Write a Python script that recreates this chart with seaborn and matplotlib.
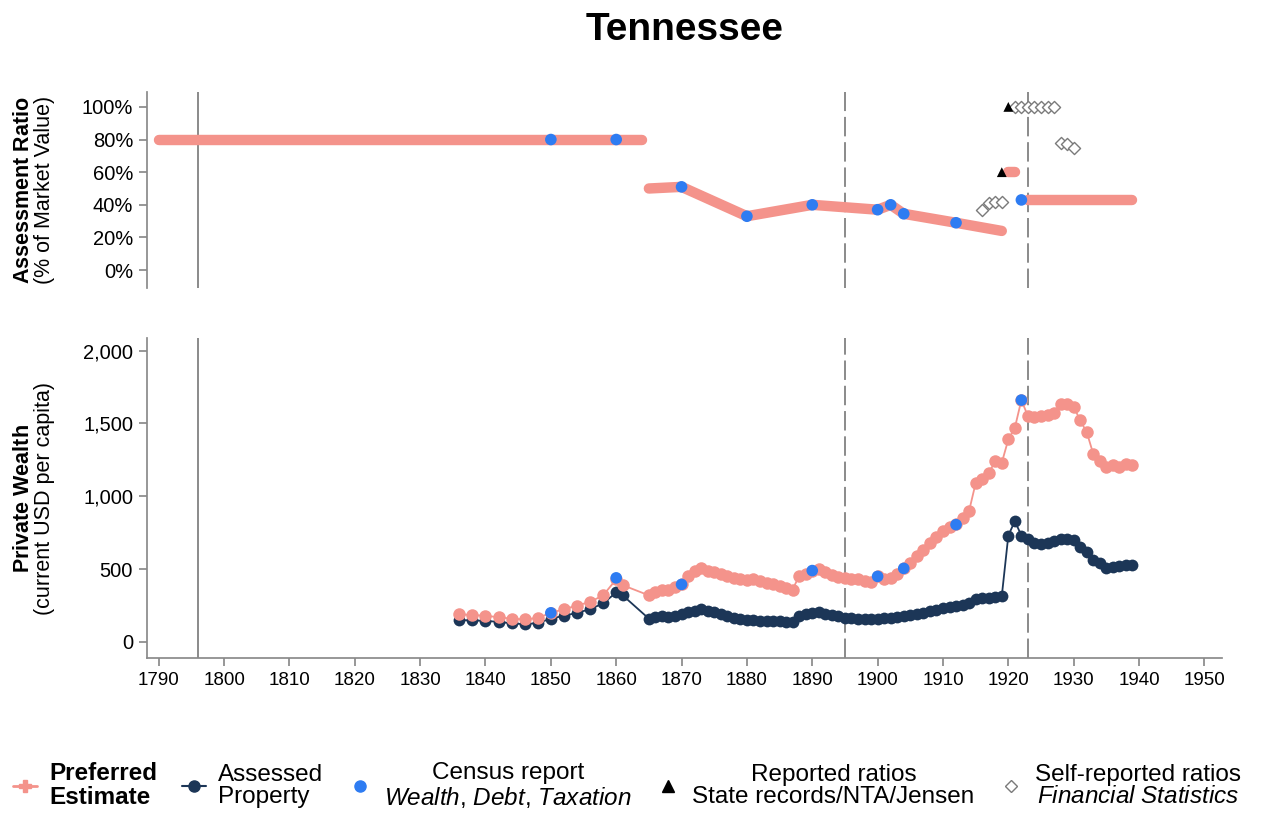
import numpy as np
import pandas as pd
import matplotlib
matplotlib.use("Agg")
import matplotlib.pyplot as plt
import seaborn as sns
from matplotlib.lines import Line2D

# ---------------- data ----------------
# Private wealth (current USD per capita)
wealth_years = [1836, 1838, 1840, 1842, 1844, 1846, 1848, 1850, 1852, 1854, 1856, 1858, 1860, 1861] + list(range(1865, 1940))
preferred_wealth = [190, 185, 180, 170, 160, 155, 165, 200, 225, 250, 275, 320, 430, 390,
                    320, 340, 355, 360, 375, 395, 450, 490, 505, 490,
                    480, 470, 455, 440, 430, 425, 435, 420, 405, 395,
                    385, 370, 360, 455, 470, 490, 500, 480, 460, 445,
                    440, 435, 430, 420, 415, 450, 430, 440, 470, 505,
                    545, 590, 630, 680, 720, 760, 790, 810, 850, 900,
                    1090, 1120, 1160, 1240, 1230, 1390, 1470, 1660, 1550, 1545,
                    1550, 1555, 1570, 1630, 1630, 1615, 1520, 1440, 1290, 1240,
                    1200, 1215, 1200, 1220, 1215]
assessed_wealth = [150, 148, 145, 138, 128, 122, 130, 160, 180, 200, 225, 265, 340, 320,
                   160, 170, 175, 170, 180, 190, 205, 215, 225, 215,
                   205, 190, 175, 165, 155, 150, 148, 145, 145, 143,
                   142, 140, 140, 175, 190, 200, 205, 195, 185, 175,
                   168, 163, 158, 155, 155, 160, 165, 168, 172, 178,
                   185, 192, 200, 210, 220, 230, 238, 245, 255, 270,
                   295, 300, 305, 308, 315, 730, 830, 730, 710, 680,
                   675, 680, 690, 705, 710, 700, 650, 620, 565, 540,
                   510, 515, 520, 530, 525]
census_wealth_years = [1850, 1860, 1870, 1890, 1900, 1904, 1912, 1922]
census_wealth = [200, 440, 395, 490, 450, 505, 805, 1660]

# Assessment ratio (% of market value), preferred estimate in segments
ratio_seg = [1, 1, 2, 2, 2, 2, 2, 2, 2, 2, 2, 2, 3, 3, 4, 4]
ratio_years = [1790, 1864, 1865, 1870, 1880, 1890, 1895, 1900, 1902, 1904, 1912, 1919, 1920, 1921, 1923, 1939]
ratio_pref = [80, 80, 50, 51, 33, 40, 38.5, 37, 40, 34.5, 29, 24, 60, 60, 43, 43]
census_ratio_years = [1850, 1860, 1870, 1880, 1890, 1900, 1902, 1904, 1912, 1922]
census_ratio = [80, 80, 51, 33, 40, 37, 40, 34.5, 29, 43]
reported_years = [1919, 1920]
reported_ratio = [60, 100]
self_years = [1916, 1917, 1918, 1919, 1921, 1922, 1923, 1924, 1925, 1926, 1927, 1928, 1929, 1930]
self_ratio = [37, 41, 42, 42, 100, 100, 100, 100, 100, 100, 100, 78, 77, 75]

event_solid = [1796]
event_dashed = [1895, 1923]

# ---------------- style ----------------
PINK = "#f4938b"
NAVY = "#1c3657"
BLUE = "#2e7cf2"
GRAY = "#8a8a8a"

sns.set_theme(style="white")
plt.rcParams["font.family"] = ["Liberation Sans", "DejaVu Sans"]
plt.rcParams["mathtext.fontset"] = "custom"
plt.rcParams["mathtext.rm"] = "Liberation Sans"
plt.rcParams["mathtext.it"] = "Liberation Sans:italic"
plt.rcParams["mathtext.bf"] = "Liberation Sans:bold"
for k in ["text.color", "axes.labelcolor", "xtick.labelcolor", "ytick.labelcolor"]:
    plt.rcParams[k] = "black"

fig = plt.figure(figsize=(12.67, 8.16), dpi=100)
ax1 = fig.add_axes([0.116, 0.647, 0.8485, 0.240])
ax2 = fig.add_axes([0.116, 0.1936, 0.8485, 0.392], sharex=ax1)

for ax in (ax1, ax2):
    for x in event_solid:
        ax.axvline(x, color=GRAY, lw=1.4, zorder=1)
    for x in event_dashed:
        ax.axvline(x, color=GRAY, lw=1.4, ls=(0, (10, 3)), zorder=1)

# top panel
ratio_df = pd.DataFrame({"year": ratio_years, "ratio": ratio_pref, "seg": ratio_seg})
sns.lineplot(data=ratio_df, x="year", y="ratio", units="seg", estimator=None,
             color=PINK, lw=7.5, solid_capstyle="round", ax=ax1, zorder=2)
sns.scatterplot(x=census_ratio_years, y=census_ratio, color=BLUE, s=70, edgecolor="none", ax=ax1, zorder=4)
sns.scatterplot(x=reported_years, y=reported_ratio, color="black", marker="^", s=50, edgecolor="none", ax=ax1, zorder=4)
ax1.scatter(self_years, self_ratio, marker="D", s=38, facecolor="white", edgecolor="#7a7a7a", lw=1.0, zorder=3)

# bottom panel
ax2.plot(wealth_years, assessed_wealth, color=NAVY, lw=1.3, marker="o", ms=8.5, mew=0, zorder=2)
sns.lineplot(x=wealth_years, y=preferred_wealth, color=PINK, lw=1.3, marker="o", ms=9, mew=0, ax=ax2, zorder=3)
sns.scatterplot(x=census_wealth_years, y=census_wealth, color=BLUE, s=70, edgecolor="none", ax=ax2, zorder=4)

ax2.set_xlim(1788.2, 1952.7)
ax2.set_xticks(range(1790, 1951, 10))
ax1.set_ylim(-11, 109)
ax1.set_yticks([0, 20, 40, 60, 80, 100])
ax1.set_yticklabels([f"{v}%" for v in [0, 20, 40, 60, 80, 100]])
ax2.set_ylim(-110, 2085)
ax2.set_yticks([0, 500, 1000, 1500, 2000])
ax2.set_yticklabels(["0", "500", "1,000", "1,500", "2,000"])

for ax in (ax1, ax2):
    sns.despine(ax=ax)
    ax.spines["left"].set_color(GRAY)
    ax.spines["bottom"].set_color(GRAY)
    ax.tick_params(axis="both", which="both", left=True, bottom=True, length=6, color=GRAY,
                   pad=4, direction="out")
    ax.tick_params(axis="y", labelsize=14.5)
    ax.tick_params(axis="x", labelsize=13.5)
    ax.set_xlabel("")
ax1.spines["bottom"].set_visible(False)
ax1.tick_params(axis="x", bottom=False, labelbottom=False)

ax1.set_ylabel("$\\bf{Assessment\\ Ratio}$\n(% of Market Value)", fontsize=15.5, linespacing=1.0)
ax2.set_ylabel("$\\bf{Private\\ Wealth}$\n(current USD per capita)", fontsize=15.5, linespacing=1.0)
ax1.yaxis.set_label_coords(-0.086, 0.5)
ax2.yaxis.set_label_coords(-0.086, 0.5)

fig.text(0.54, 0.963, "Tennessee", ha="center", va="center", fontsize=28, fontweight="bold")

handles = [
    Line2D([], [], color=PINK, marker="P", ms=9, lw=2),
    Line2D([], [], color=NAVY, marker="o", ms=8, lw=1.5),
    Line2D([], [], color=BLUE, marker="o", ms=8, lw=0),
    Line2D([], [], color="black", marker="^", ms=8, lw=0),
    Line2D([], [], color="#7a7a7a", marker="D", ms=6, lw=0, mfc="white"),
]
labels = [
    "Preferred\nEstimate",
    "Assessed\nProperty",
    "Census report\n$\\it{Wealth{,}\\ Debt{,}\\ Taxation}$",
    "Reported ratios\nState records/NTA/Jensen",
    "Self-reported ratios\n$\\it{Financial\\ Statistics}$",
]
leg = fig.legend(handles, labels, loc="center", bbox_to_anchor=(0.495, 1 - 786 / 816), ncol=5,
                 frameon=False, fontsize=17.5, handlelength=1.0, handletextpad=0.5,
                 columnspacing=1.0, labelspacing=0.2)
for i, t in enumerate(leg.get_texts()):
    t.set_linespacing(1.03)
    if i == 0:
        t.set_fontweight("bold")
    if i >= 2:
        t.set_multialignment("center")

fig.savefig("out.png", dpi=100)
